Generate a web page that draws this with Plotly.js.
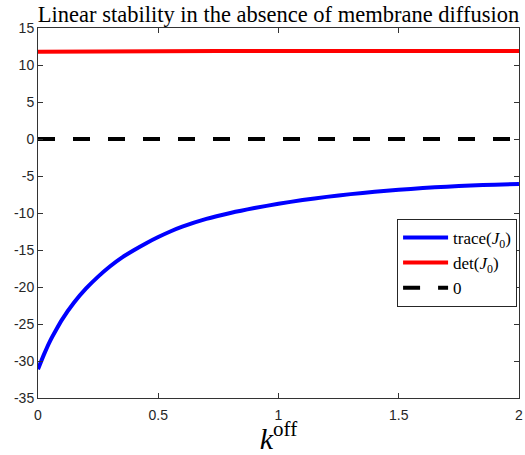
<!DOCTYPE html>
<html>
<head>
<script src="https://cdn.plot.ly/plotly-3.0.1.min.js"></script>
<style>body{margin:0;padding:0;background:#fff}#plot{width:525px;height:455px}</style>
</head>
<body>
<div id="plot"></div>
<script>
const kTrace = [0, 0.025, 0.05, 0.075, 0.1, 0.15, 0.2, 0.25, 0.3, 0.35, 0.4, 0.45, 0.5, 0.55, 0.6, 0.7, 0.8, 0.9, 1.0, 1.1, 1.2, 1.3, 1.4, 1.5, 1.6, 1.7, 1.8, 1.9, 2.0];
const traceJ0 = [-31.1, -29.1, -27.3, -25.8, -24.4, -22.1, -20.2, -18.6, -17.2, -16.0, -15.0, -14.08, -13.25, -12.5, -11.85, -10.8, -10.0, -9.33, -8.75, -8.25, -7.82, -7.45, -7.13, -6.86, -6.63, -6.44, -6.29, -6.17, -6.08];
const kDet = [0, 0.5, 1.0, 1.5, 2.0];
const detJ0 = [11.8, 11.87, 11.9, 11.9, 11.9];
const kZero = [0, 2];
const zeroLine = [0, 0];
const xTicks = [0, 0.5, 1, 1.5, 2];
const xTickLabels = ['0', '0.5', '1', '1.5', '2'];
const yTicks = [-35, -30, -25, -20, -15, -10, -5, 0, 5, 10, 15];
const yTickLabels = ['-35', '-30', '-25', '-20', '-15', '-10', '-5', '0', '5', '10', '15'];

const serif = 'Liberation Serif, Times New Roman, serif';
const sans = 'Liberation Sans, Arial, sans-serif';

const data = [
  {x: kTrace, y: traceJ0, mode: 'lines', line: {color: '#0000ff', width: 4, shape: 'spline', smoothing: 0.6}, name: 'trace(<i>J</i><sub>0</sub>)'},
  {x: kDet, y: detJ0, mode: 'lines', line: {color: '#ff0000', width: 4, shape: 'spline'}, name: 'det(<i>J</i><sub>0</sub>)'},
  {x: kZero, y: zeroLine, mode: 'lines', line: {color: '#000000', width: 4, dash: '17px,18px'}, name: '0'}
];

const axisCommon = {
  showgrid: false, zeroline: false, showline: true, mirror: 'ticks',
  linecolor: '#333333', linewidth: 1, ticks: 'inside', ticklen: 5, tickcolor: '#333333',
  tickfont: {family: sans, size: 14, color: '#262626'}
};

const layout = {
  width: 525, height: 455,
  margin: {l: 38, r: 6, t: 28, b: 57},
  paper_bgcolor: '#fff', plot_bgcolor: '#fff',
  showlegend: true,
  title: {text: 'Linear stability in the absence of membrane diffusion', font: {family: serif, size: 22.5, color: '#000'},
          x: 0.5, xref: 'paper', xanchor: 'center', y: 0.951, yref: 'container', yanchor: 'bottom'},
  xaxis: Object.assign({}, axisCommon, {range: [0, 2], tickvals: xTicks, ticktext: xTickLabels, ticklabelstandoff: 4,
          title: {text: '<i>k</i><sup>off</sup>', font: {family: serif, size: 30, color: '#000'}, standoff: 11}}),
  yaxis: Object.assign({}, axisCommon, {range: [-35, 15], tickvals: yTicks, ticktext: yTickLabels}),
  legend: {x: 0.996, xanchor: 'right', y: 0.484, yanchor: 'top', bgcolor: '#fff', bordercolor: '#262626', borderwidth: 1,
           font: {family: serif, size: 17, color: '#000'}, tracegroupgap: 0, itemwidth: 45}
};

Plotly.newPlot('plot', data, layout, {displayModeBar: false, staticPlot: true});
</script>
</body>
</html>
